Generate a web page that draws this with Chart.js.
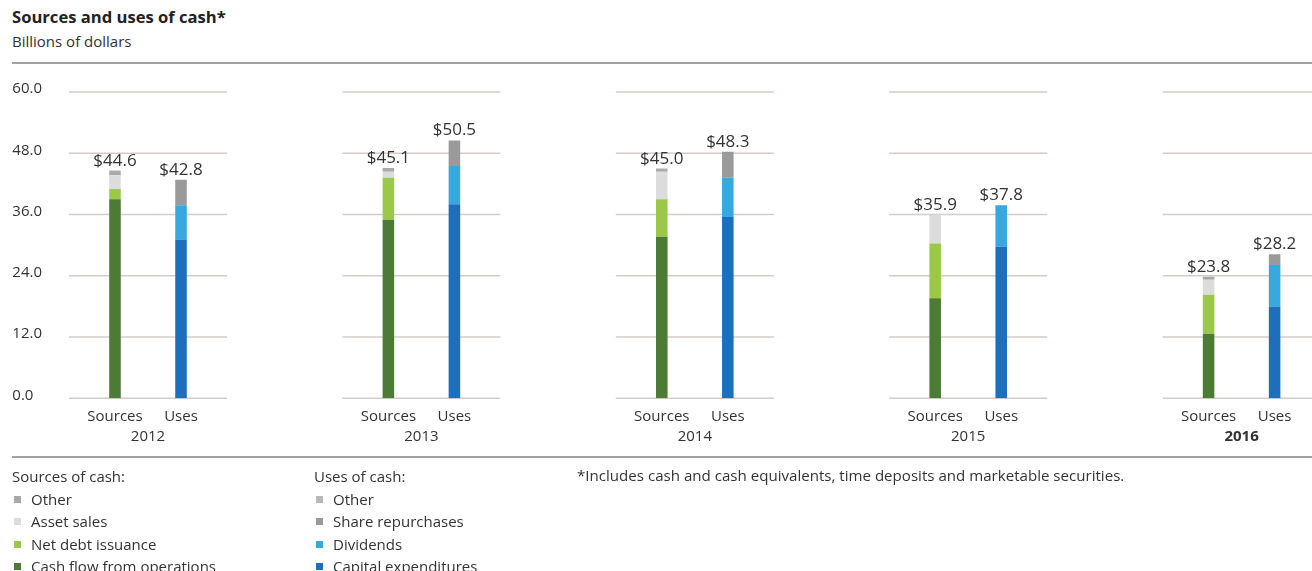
<!DOCTYPE html>
<html>
<head>
<meta charset="utf-8">
<script src="https://cdn.jsdelivr.net/npm/chart.js@4.4.1/dist/chart.umd.min.js"></script>
<style>
  html, body { margin: 0; padding: 0; background: #fff; overflow: hidden; }
  body { width: 1312px; height: 571px; position: relative; font-family: "Open Sans", sans-serif; color: #333; }
  #chart { position: absolute; left: 0; top: 0; }
  .title { position: absolute; left: 12px; top: 5px; font-size: 16.6px; font-weight: 700; color: #222; }
  .subtitle { position: absolute; left: 12px; top: 31px; font-size: 15px; color: #333; }
  .rule { position: absolute; left: 12px; right: 0; height: 2px; background: #a3a3a3; }
  .legend { position: absolute; top: 465px; font-size: 15px; line-height: 22.6px; }
  .legend .item { position: relative; padding-left: 19px; }
  .legend .sw { position: absolute; left: 2px; top: 8px; width: 7px; height: 7px; }
  .note { position: absolute; left: 577px; top: 464px; font-size: 15.1px; line-height: 22px; }
</style>
</head>
<body>
<div class="title">Sources and uses of cash*</div>
<div class="subtitle">Billions of dollars</div>
<div class="rule" style="top:62px"></div>
<div class="rule" style="top:456px"></div>
<canvas id="chart" width="1400" height="571"></canvas>
<div class="legend" id="legend-src" style="left:12px"></div>
<div class="legend" id="legend-use" style="left:314px"></div>
<div class="note">*Includes cash and cash equivalents, time deposits and marketable securities.</div>
<script>
const years = ['2012', '2013', '2014', '2015', '2016'];
const yTicks = [0, 12, 24, 36, 48, 60];

// Sources of cash (billions)
const srcOps = [39.0, 35.0, 31.6, 19.6, 12.6];
const srcDebt = [2.0, 8.2, 7.4, 10.7, 7.7];
const srcAssets = [2.7, 1.2, 5.4, 5.6, 2.9];
const srcOther = [0.9, 0.7, 0.6, 0, 0.6];
const srcTotals = [44.6, 45.1, 45.0, 35.9, 23.8];

// Uses of cash (billions)
const useCapex = [31.1, 38.0, 35.5, 29.7, 18.0];
const useDividends = [6.7, 7.5, 7.7, 8.1, 8.1];
const useBuybacks = [5.0, 5.0, 5.1, 0, 2.1];
const useOther = [0, 0, 0, 0, 0];
const useTotals = [42.8, 50.5, 48.3, 37.8, 28.2];

const srcNames = ['Cash flow from operations', 'Net debt issuance', 'Asset sales', 'Other'];
const srcColors = ['#4b7b34', '#9cc84a', '#dcdcdc', '#a9a9a9'];
const useNames = ['Capital expenditures', 'Dividends', 'Share repurchases', 'Other'];
const useColors = ['#1b6fbd', '#36a9e1', '#9a9a9a', '#b8b8b8'];

const srcSeries = [srcOps, srcDebt, srcAssets, srcOther];
const useSeries = [useCapex, useDividends, useBuybacks, useOther];

const datasets = [];
srcSeries.forEach((d, i) => {
  datasets.push({ label: srcNames[i], data: d, backgroundColor: srcColors[i], stack: 'src' });
});
useSeries.forEach((d, i) => {
  datasets.push({ label: useNames[i], data: d, backgroundColor: useColors[i], stack: 'use' });
});

// legends
function buildLegend(el, head, names, colors) {
  let html = '<div>' + head + '</div>';
  for (let i = names.length - 1; i >= 0; i--) {
    html += '<div class="item"><span class="sw" style="background:' + colors[i] + '"></span>' + names[i] + '</div>';
  }
  document.getElementById(el).innerHTML = html;
}
buildLegend('legend-src', 'Sources of cash:', srcNames, srcColors);
buildLegend('legend-use', 'Uses of cash:', useNames, useColors);

const segmentGrid = {
  id: 'segmentGrid',
  beforeDatasetsDraw(chart) {
    const { ctx, chartArea, scales: { x, y } } = chart;
    ctx.save();
    ctx.strokeStyle = '#d6cbc9';
    ctx.lineWidth = 1.5;
    ctx.fillStyle = '#333';
    ctx.font = '15px "Open Sans"';
    ctx.textAlign = 'left';
    ctx.textBaseline = 'middle';
    yTicks.forEach(v => {
      const py = y.getPixelForValue(v);
      years.forEach((yr, i) => {
        const cx = x.getPixelForValue(i);
        ctx.beginPath();
        ctx.moveTo(cx - 79, py);
        ctx.lineTo(cx + 79, py);
        ctx.stroke();
      });
      ctx.fillText(v.toFixed(1), chartArea.left + 1, py - 3);
    });
    ctx.restore();
  },
  afterDatasetsDraw(chart) {
    const { ctx, scales: { y } } = chart;
    const srcMeta = chart.getDatasetMeta(0);
    const useMeta = chart.getDatasetMeta(4);
    const base = y.getPixelForValue(0);
    ctx.save();
    ctx.fillStyle = '#333';
    ctx.textAlign = 'center';
    years.forEach((yr, i) => {
      const sx = srcMeta.data[i].x;
      const ux = useMeta.data[i].x;
      ctx.textBaseline = 'alphabetic';
      ctx.font = '17px "Open Sans"';
      ctx.fillText('$' + srcTotals[i].toFixed(1), sx, y.getPixelForValue(srcTotals[i]) - 5);
      ctx.fillText('$' + useTotals[i].toFixed(1), ux, y.getPixelForValue(useTotals[i]) - 5);
      ctx.textBaseline = 'middle';
      ctx.font = '15px "Open Sans"';
      ctx.fillText('Sources', sx, base + 18);
      ctx.fillText('Uses', ux, base + 18);
      ctx.font = (i === years.length - 1 ? 'bold ' : '') + '15px "Open Sans"';
      ctx.fillText(yr, (sx + ux) / 2, base + 38);
    });
    ctx.restore();
  }
};

new Chart(document.getElementById('chart').getContext('2d'), {
  type: 'bar',
  data: { labels: years, datasets: datasets },
  options: {
    responsive: false,
    animation: false,
    layout: { padding: { left: 11.3, right: 21.7, top: 92, bottom: 172.7 } },
    categoryPercentage: 0.483,
    barPercentage: 0.175,
    plugins: { legend: { display: false }, tooltip: { enabled: false } },
    scales: {
      x: { stacked: true, display: false },
      y: { stacked: true, display: false, min: 0, max: 60, ticks: { stepSize: 12 } }
    }
  },
  plugins: [segmentGrid]
});
</script>
</body>
</html>
